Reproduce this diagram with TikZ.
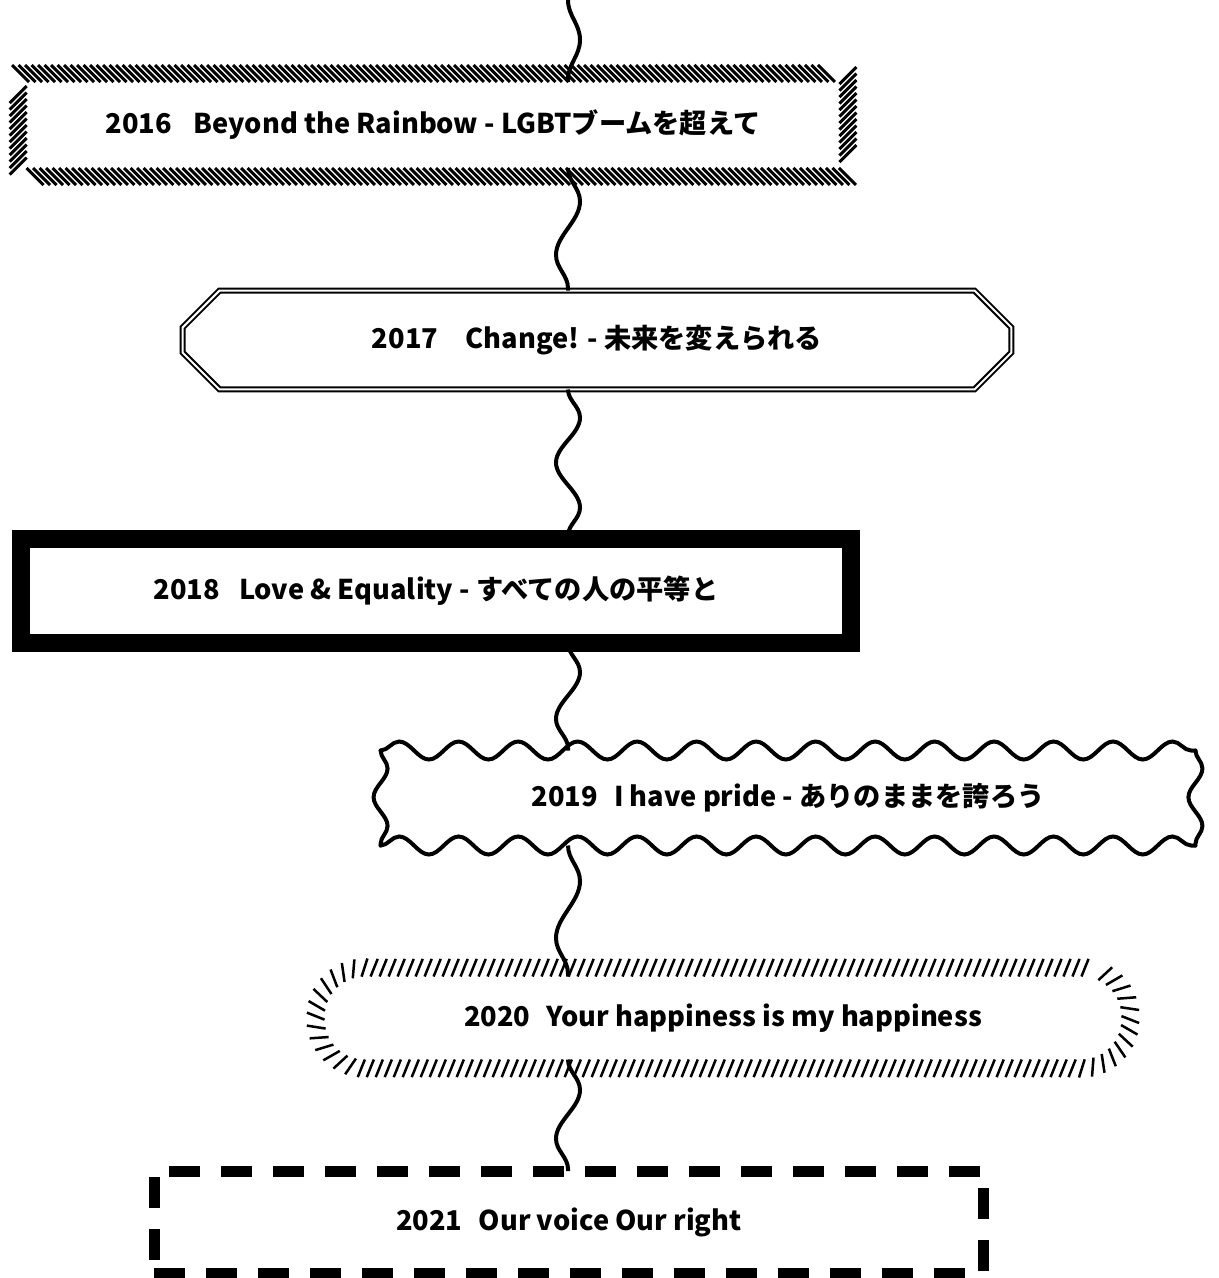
\documentclass[tikz,border=0pt]{standalone}
\usepackage{fontspec}
\setmainfont{Noto Sans CJK JP}
\usetikzlibrary{decorations.pathmorphing,decorations.pathreplacing}
\begin{document}
\begin{tikzpicture}[x=0.02cm, y=-0.02cm, every node/.style = {shape=rectangle, align=center, inner sep=0pt, outer sep=0pt, font=\bfseries\fontsize{15.5}{18}\selectfont}, link/.style = {line width=0.08cm, decorate, decoration={snake, segment length=2cm, amplitude=0.24cm}}]
	\tikzstyle{hatch} = [draw, minimum width=16.26cm, minimum height=1.72cm, line width=0.06cm, decorate, decoration={border, segment length=0.13cm, amplitude=0.48cm, angle=-45}]
	\tikzstyle{octa} = [minimum width=16.58cm, minimum height=1.98cm]
	\tikzstyle{dbl} = [double, line width=0.04cm, double distance=0.04cm]
	\tikzstyle{heavy} = [draw, minimum width=16.6cm, minimum height=2.08cm, line width=0.36cm]
	\tikzstyle{wavy} = [minimum width=16.3cm, minimum height=1.9cm]
	\tikzstyle{wavyline} = [line width=0.08cm, line cap=round, decorate, decoration={snake, segment length=1.19cm, amplitude=0.18cm}]
	\tikzstyle{roundhatch} = [draw, minimum width=15.94cm, minimum height=1.66cm, rounded corners=0.8cm, line width=0.05cm, decorate, decoration={border, segment length=0.18cm, amplitude=0.38cm, angle=-112}]
	\tikzstyle{dashbox} = [draw, minimum width=16.6cm, minimum height=2.04cm, line width=0.22cm, dash pattern=on 0.62cm off 0.42cm]
	\useasboundingbox (0,0) rectangle (1219,1278);
	\coordinate (top) at (568,0);
	\node[hatch] (y16) at (433,125) {2016\hspace{0.8em}Beyond the Rainbow - LGBTブームを超えて};
	\node[octa] (y17) at (597,340) {2017\hspace{1em}Change! - 未来を変えられる};
	\node[heavy] (y18) at (436,591) {2018\hspace{0.7em}Love \& Equality - すべての人の平等と};
	\node[wavy] (y19) at (788,798) {2019\hspace{0.6em}I have pride - ありのままを誇ろう};
	\node[roundhatch] (y20) at (723,1018) {2020\hspace{0.6em}Your happiness is my happiness};
	\node[dashbox] (y21) at (569,1222) {2021\hspace{0.6em}Our voice Our right};
	% octagon outline of 2017
	\draw[dbl] ([xshift=0.74cm]y17.north west) -- ([xshift=-0.74cm]y17.north east) -- ([yshift=-0.74cm]y17.north east) -- ([yshift=0.74cm]y17.south east) -- ([xshift=-0.74cm]y17.south east) -- ([xshift=0.74cm]y17.south west) -- ([yshift=0.74cm]y17.south west) -- ([yshift=-0.74cm]y17.north west) -- cycle;
	% wavy outline of 2019
	\draw[wavyline] (y19.north west) -- (y19.north east);
	\draw[wavyline] (y19.south west) -- (y19.south east);
	\draw[wavyline, decoration={segment length=1.15cm, amplitude=0.14cm}] (y19.north west) -- (y19.south west);
	\draw[wavyline, decoration={segment length=1.15cm, amplitude=0.14cm}] (y19.north east) -- (y19.south east);
	\draw[link, decoration={segment length=2.55cm}] (top) -- (y16.north -| top);
	\draw[link, decoration={segment length=2.14cm}] (y16.south -| top) -- (y17.north -| top);
	\draw[link, decoration={segment length=1.8cm}] (y17.south -| top) -- (y18.north -| top);
	\draw[link, decoration={segment length=1.87cm}] (y18.south -| top) -- (y19.north -| top);
	\draw[link, decoration={segment length=2.28cm}] (y19.south -| top) -- (y20.north -| top);
	\draw[link, decoration={segment length=1.95cm}] (y20.south -| top) -- (y21.north -| top);
\end{tikzpicture}
\end{document}
